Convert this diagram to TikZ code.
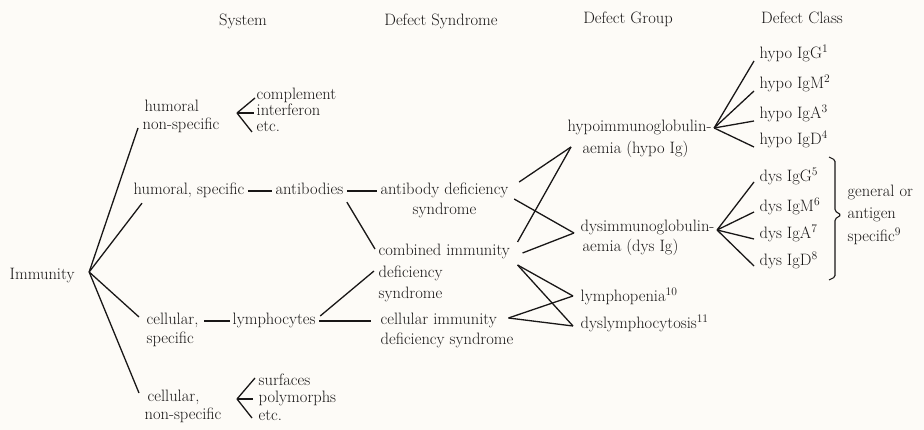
\documentclass[tikz,border=0pt]{standalone}
\usepackage{tikz}
\usetikzlibrary{calc}

\definecolor{paper}{RGB}{253,251,247}
\definecolor{ink}{RGB}{25,23,23}

\begin{document}
\begin{tikzpicture}[x=1pt, y=-1pt, line width=1.3pt, color=ink,
    every node/.style={font=\fontsize{16.5}{19}\selectfont, inner sep=1pt,
        text height=11pt, text depth=4pt, text=ink},
    lbl/.style={anchor=west},
    dashline/.style={shorten <=2pt, shorten >=2pt}]
    % background
    \fill[paper] (0,0) rectangle (924,430);
    \useasboundingbox (0,0) rectangle (924,430);

    % column heads
    \node (hSys) at (243,22) {System};
    \node (hSyn) at (441,22) {Defect Syndrome};
    \node (hGrp) at (628,20) {Defect Group};
    \node (hCls) at (802,20) {Defect Class};

    % Immunity and the systems
    \node[lbl] (immun) at (8,276) {Immunity};
    \coordinate (root) at ($(immun.east)+(13,-4)$);
    \node[lbl] (humNon1) at (143,108) {humoral};
    \node[lbl] (humNon2) at (141,126) {non-specific};
    \node[lbl] (humSpec) at (132,191) {humoral, specific};
    \node[lbl] (celSpec1) at (145,321) {cellular,};
    \node[lbl] (celSpec2) at (145,340) {specific};
    \node[lbl] (celNon1) at (146,398) {cellular,};
    \node[lbl] (celNon2) at (143,416) {non-specific};

    \draw (root) -- ($(humNon2.west)+(-3,2)$);
    \draw (root) -- ($(humSpec.south west)+(10,3)$);
    \draw (root) -- ($(celSpec1.west)+(-6,-4)$);
    \draw (root) -- ($(celNon1.west)+(-7,-5)$);

    % non-specific parts
    \node[lbl] (compl) at (255,96) {complement};
    \node[lbl] (interf) at (255,112) {interferon};
    \node[lbl] (etcA) at (255,128) {etc.};
    \coordinate (forkA) at ($(interf.west)+(-18,1)$);
    \draw (forkA) -- ($(compl.west)+(0,2)$);
    \draw (forkA) -- ($(interf.west)+(-1,1)$);
    \draw (forkA) -- ($(etcA.west)+(-3,4)$);

    \node[lbl] (surf) at (257,382) {surfaces};
    \node[lbl] (polym) at (257,399) {polymorphs};
    \node[lbl] (etcB) at (257,417) {etc.};
    \coordinate (forkB) at ($(polym.west)+(-20,0)$);
    \draw (forkB) -- ($(surf.west)+(-2,-4)$);
    \draw (forkB) -- ($(polym.west)+(-4,0)$);
    \draw (forkB) -- ($(etcB.west)+(-5,1)$);

    % defect syndromes
    \node[lbl] (antib) at (274,191) {antibodies};
    \node[lbl] (abDef1) at (379,191) {antibody deficiency};
    \node[lbl] (abDef2) at (411,211) {syndrome};
    \node[lbl] (comb1) at (377,252) {combined immunity};
    \node[lbl] (comb2) at (377,274) {deficiency};
    \node[lbl] (comb3) at (377,295) {syndrome};
    \node[lbl] (lymph) at (231,321) {lymphocytes};
    \node[lbl] (cell1) at (379,321) {cellular immunity};
    \node[lbl] (cell2) at (379,341) {deficiency syndrome};

    \draw[dashline] (humSpec.east) -- (antib.west);
    \draw[dashline] (antib.east) -- (abDef1.west);
    \draw[shorten <=4pt, shorten >=1pt] (celSpec1.east) -- (lymph.west);
    \draw[shorten <=2pt, shorten >=8pt] (lymph.east) -- (cell1.west);
    \draw ($(lymph.east)+(3,-5)$) -- ($(comb2.west)+(-3,-3)$);
    \draw ($(antib.south east)+(2,2)$) -- ($(comb1.west)+(-2,-3)$);

    % defect groups
    \node[lbl] (hypo1) at (566,128) {hypoimmunoglobulin-};
    \node[lbl] (hypo2) at (581,150) {aemia (hypo Ig)};
    \node[lbl] (dys1) at (579,228) {dysimmunoglobulin-};
    \node[lbl] (dys2) at (581,248) {aemia (dys Ig)};
    \node[lbl] (lpen) at (579,298) {lymphopenia\textsuperscript{10}};
    \node[lbl] (dlym) at (579,325) {dyslymphocytosis\textsuperscript{11}};

    \coordinate (hypoIn) at ($(hypo2.west)+(-10,-3)$);
    \coordinate (dysIn) at ($(dys1.west)+(-5,5)$);
    \coordinate (lpIn) at ($(lpen.west)+(-6,-2)$);
    \coordinate (dlIn) at ($(dlym.west)+(-6,1)$);
    \coordinate (combOut) at ($(comb1.east)+(6,13)$);
    \coordinate (cellOut) at ($(cell1.east)+(10,-3)$);
    \draw ($(abDef1.east)+(9,-9)$) -- (hypoIn);
    \draw ($(abDef1.east)+(4,8)$) -- (dysIn);
    \draw ($(comb1.east)+(6,-10)$) -- (hypoIn);
    \draw ($(comb1.east)+(11,1)$) -- (dysIn);
    \draw (combOut) -- (lpIn);
    \draw (combOut) -- (dlIn);
    \draw (cellOut) -- (lpIn);
    \draw (cellOut) -- (dlIn);

    % defect classes
    \foreach \cl/\nn/\yy [count=\i] in {G/1/55, M/2/85, A/3/115, D/4/141}
        \node[lbl] (hc\i) at (758,\yy) {hypo Ig\cl\textsuperscript{\nn}};
    \foreach \cl/\nn/\yy [count=\i] in {G/5/178, M/6/208, A/7/235, D/8/262}
        \node[lbl] (dc\i) at (758,\yy) {dys Ig\cl\textsuperscript{\nn}};

    \coordinate (hypoFork) at ($(hypo1.east)+(1,0)$);
    \coordinate (dysFork) at ($(dys1.east)+(1,2)$);
    \foreach \i in {1,...,4} {
        \draw (hypoFork) -- ($(hc\i.west)+(-4,6)$);
        \draw (dysFork) -- ($(dc\i.west)+(-4,4)$);
    }

    % bracket
    \draw[line width=1.1pt, rounded corners=1.5pt] (829,157) -- (835,160) -- (835,211)
        -- (841,215) -- (835,219) -- (835,277) -- (829,280);
    \node[lbl] (gen1) at (846,193) {general or};
    \node[lbl] (gen2) at (846,215) {antigen};
    \node[lbl] (gen3) at (846,238) {specific\textsuperscript{9}};
\end{tikzpicture}
\end{document}
